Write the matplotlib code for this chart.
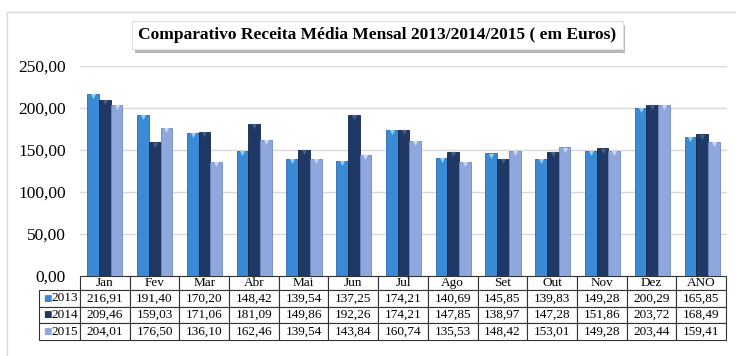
import numpy as np
import matplotlib
matplotlib.use("Agg")
import matplotlib.pyplot as plt
from matplotlib import patheffects
from matplotlib.lines import Line2D
from matplotlib.ticker import FuncFormatter

# --- data ---
months = ["Jan", "Fev", "Mar", "Abr", "Mai", "Jun", "Jul", "Ago",
          "Set", "Out", "Nov", "Dez", "ANO"]
years = ["2013", "2014", "2015"]
v2013 = [216.91, 191.40, 170.20, 148.42, 139.54, 137.25, 174.21,
         140.69, 145.85, 139.83, 149.28, 200.29, 165.85]
v2014 = [209.46, 159.03, 171.06, 181.09, 149.86, 192.26, 174.21,
         147.85, 138.97, 147.28, 151.86, 203.72, 168.49]
v2015 = [204.01, 176.50, 136.10, 162.46, 139.54, 143.84, 160.74,
         135.53, 148.42, 153.01, 149.28, 203.44, 159.41]
series = [v2013, v2014, v2015]
colors = ["#3b8ad6", "#1f3866", "#8fa7dc"]
edges = ["#2a6aad", "#142848", "#6f88c0"]
tops = ["#8fd0f5", "#4a5f85", "#c8d6f2"]

W, H = 736, 356
plt.rcParams["font.family"] = ["Liberation Serif", "DejaVu Serif"]

fig = plt.figure(figsize=(W / 100, H / 100), dpi=100)

# light outer frame (only top and left edges show in the reference)
fy = 1 - 12 / H
fx = 7 / W
fig.add_artist(Line2D([fx, 1.0], [fy, fy], transform=fig.transFigure,
                      color="#d9d9d9", linewidth=1.0))
fig.add_artist(Line2D([fx, fx], [0.0, fy], transform=fig.transFigure,
                      color="#d9d9d9", linewidth=1.0))

ax = fig.add_axes([80 / W, 1 - 276 / H, 647 / W, 210 / H])

x = np.arange(len(months))
bw = 0.235
for i, vals in enumerate(series):
    xs = x + (i - 1) * bw
    ax.bar(xs, vals, width=bw, color=colors[i],
           edgecolor=edges[i], linewidth=0.6, zorder=3)
    # small bevel mark at the top of each bar
    ax.scatter(xs, np.array(vals) - 2.5, marker="v", s=14, color=tops[i],
               linewidths=0, zorder=4)

ax.set_xlim(-0.5, len(months) - 0.5)
ax.set_ylim(0, 250)
ax.set_yticks(np.arange(0, 251, 50))
ax.yaxis.set_major_formatter(FuncFormatter(lambda v, p: f"{v:.2f}".replace(".", ",")))
ax.tick_params(axis="y", length=0, pad=10, labelsize=12.5)
ax.set_xticks([])
ax.grid(axis="y", color="#d9d9d9", linewidth=1.0, zorder=0)
for s in ax.spines.values():
    s.set_visible(False)

# data table under the bars
cell_text = [[""] + months]
for y, vals in zip(years, series):
    cell_text.append([y] + [f"{v:.2f}".replace(".", ",") for v in vals])

lab_w = 41
col_w = 646 / len(months)
tot_w = lab_w + col_w * len(months)
tab_h = 64 / 210
tab = ax.table(cellText=cell_text, cellLoc="center",
               colWidths=[lab_w / tot_w] + [col_w / tot_w] * len(months),
               bbox=[-lab_w / 647, -tab_h, tot_w / 647, tab_h])
tab.auto_set_font_size(False)
tab.set_fontsize(9.5)
for (r, c), cell in tab.get_celld().items():
    cell.set_linewidth(0.8)
    cell.set_edgecolor("#333333")
    if r == 0:
        cell.set_height(cell.get_height() * 0.84)
        if c == 0:
            cell.visible_edges = ""
    if c == 0 and r > 0:
        cell._loc = "right"
        cell.PAD = 0.05
        cell.get_text().set_horizontalalignment("right")

# colour squares in the row labels (header is 14 px, rows ~16.7 px)
row_px = (64 - 14) / 3
for i in range(3):
    yc = -(14 + (i + 0.5) * row_px) / 210
    ax.text(-lab_w / 647 + 4 / 647, yc, "■", transform=ax.transAxes,
            color=colors[i], fontsize=6.5, ha="left", va="center",
            family="DejaVu Sans", clip_on=False)

# title box with shadow
t = fig.text(377.5 / W, 1 - 35 / H,
             "Comparativo Receita Média Mensal 2013/2014/2015 ( em Euros)",
             ha="center", va="center", fontsize=12.5, fontweight="bold",
             bbox=dict(boxstyle="square,pad=0.35", facecolor="white",
                       edgecolor="#e0e0e0", linewidth=0.8))
t.get_bbox_patch().set_path_effects([
    patheffects.withSimplePatchShadow(offset=(2, -3), shadow_rgbFace="#888888", alpha=0.6),
    patheffects.Normal()])

fig.savefig("out.png", dpi=100)
